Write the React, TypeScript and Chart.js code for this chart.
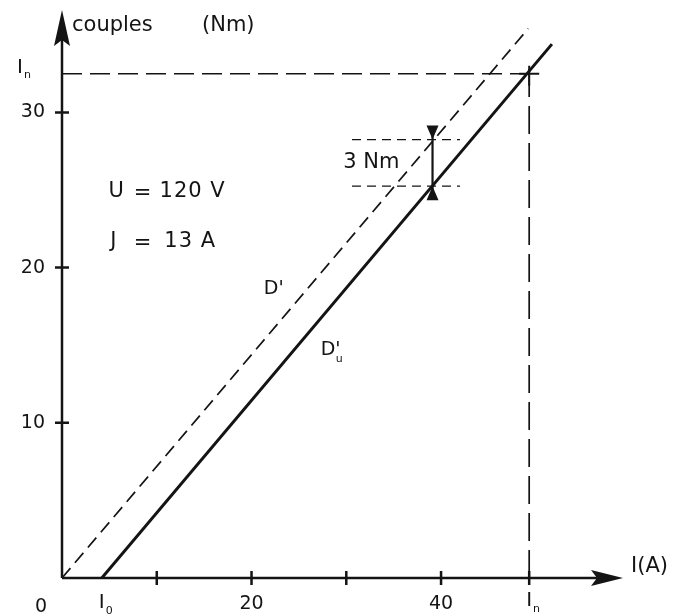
import { useEffect, useRef } from 'react';
import { Chart, registerables } from 'chart.js';

Chart.register(...registerables);

// Axis ranges (current I in A, torque in Nm)
const currentRange = [0, 59.2];
const torqueRange = [0, 36.6];

// Tick marks and labels
const xTickValues = [10, 20, 30, 40];
const xTickLabelValues = [20, 40];
const xTickLabels = ['20', '40'];
const yTickValues = [10, 20, 30];
const yTickLabels = ['10', '20', '30'];

// Characteristic values
const I0 = 4.2; // no-load current
const In = 49.3; // nominal current
const Cn = 32.5; // nominal torque

// D' : electromagnetic torque (dashed)
const dPrimeCurrent = [0, 49.2];
const dPrimeTorque = [0, 35.4];
// D'u : useful torque (solid)
const dPrimeUCurrent = [4.2, 51.7];
const dPrimeUTorque = [0, 34.4];

// 3 Nm loss marker
const markerCurrent = 39.1;
const markerUpper = 28.25;
const markerLower = 25.25;
const markerSpan = [30.6, 42.0];
const lossLabel = '3 Nm';

// Guide line extents
const nominalGuideEnd = 50.2;
const nominalGuideTop = 32.9;

const conditionLabels = ['U = 120 V', 'J = 13 A'];

export default function App() {
  const ref = useRef<HTMLCanvasElement>(null);

  useEffect(() => {
    const canvas = ref.current;
    if (!canvas) return;
    const ink = '#141414';
    const FAM = '"DejaVu Sans", sans-serif';
    const font = (s: number) => `${s}px ${FAM}`;

    const drawing = {
      id: 'drawing',
      afterDatasetsDraw(chart: any) {
        const ctx: any = chart.ctx;
        const xs = chart.scales.x;
        const ys = chart.scales.y;
        const px = (v: number) => xs.getPixelForValue(v);
        const py = (v: number) => ys.getPixelForValue(v);
        const x0 = px(0);
        const y0 = py(0);
        const xEnd = px(currentRange[1]);
        const yEnd = py(torqueRange[1]);
        ctx.save();
        ctx.strokeStyle = ink;
        ctx.fillStyle = ink;
        ctx.setLineDash([]);
        ctx.lineWidth = 2.5;
        // axes
        ctx.beginPath();
        ctx.moveTo(x0, y0);
        ctx.lineTo(xEnd - 20, y0);
        ctx.moveTo(x0, y0);
        ctx.lineTo(x0, yEnd + 25);
        ctx.stroke();
        // axis arrowheads
        ctx.beginPath();
        ctx.moveTo(xEnd, y0);
        ctx.lineTo(xEnd - 32, y0 - 8);
        ctx.lineTo(xEnd - 26, y0);
        ctx.lineTo(xEnd - 32, y0 + 8);
        ctx.closePath();
        ctx.fill();
        ctx.beginPath();
        ctx.moveTo(x0, yEnd);
        ctx.lineTo(x0 - 8, yEnd + 36);
        ctx.lineTo(x0, yEnd + 30);
        ctx.lineTo(x0 + 8, yEnd + 36);
        ctx.closePath();
        ctx.fill();
        // ticks
        ctx.lineWidth = 2.5;
        ctx.beginPath();
        [...xTickValues, In].forEach((v) => {
          ctx.moveTo(px(v), y0 - 7);
          ctx.lineTo(px(v), y0 + 7);
        });
        yTickValues.forEach((v) => {
          ctx.moveTo(x0 - 7, py(v));
          ctx.lineTo(x0 + 7, py(v));
        });
        ctx.stroke();
        // cross at nominal point
        ctx.lineWidth = 2;
        ctx.beginPath();
        ctx.moveTo(px(In) - 10, py(Cn));
        ctx.lineTo(px(In) + 10, py(Cn));
        ctx.moveTo(px(In), py(Cn) - 8);
        ctx.lineTo(px(In), py(Cn) + 12);
        ctx.stroke();
        // loss marker arrowheads
        const mx = px(markerCurrent);
        const mu = py(markerUpper);
        const ml = py(markerLower);
        ctx.beginPath();
        ctx.moveTo(mx, mu);
        ctx.lineTo(mx - 6, mu - 14);
        ctx.lineTo(mx + 6, mu - 14);
        ctx.closePath();
        ctx.moveTo(mx, ml);
        ctx.lineTo(mx - 6, ml + 14);
        ctx.lineTo(mx + 6, ml + 14);
        ctx.closePath();
        ctx.fill();
        ctx.lineWidth = 2.2;
        ctx.beginPath();
        ctx.moveTo(mx, mu - 12);
        ctx.lineTo(mx, ml + 12);
        ctx.stroke();

        // texts
        ctx.textBaseline = 'middle';
        ctx.font = font(19);
        ctx.textAlign = 'right';
        yTickValues.forEach((v, i) => {
          ctx.fillText(yTickLabels[i], x0 - 17, py(v));
        });
        ctx.textAlign = 'center';
        xTickLabelValues.forEach((v, i) => {
          ctx.fillText(xTickLabels[i], px(v), y0 + 26);
        });
        ctx.fillText('0', x0 - 21, y0 + 29);
        const subLabel = (x: number, y: number, main: string, sub: string) => {
          ctx.textAlign = 'left';
          ctx.font = font(20);
          const w = ctx.measureText(main).width;
          ctx.fillText(main, x, y);
          ctx.font = font(11);
          ctx.fillText(sub, x + w + 1, y + 8);
        };
        subLabel(px(I0) - 3, y0 + 25, 'I', '0');
        subLabel(px(In) - 3, y0 + 23, 'I', 'n');
        subLabel(x0 - 45, py(Cn) - 6, 'I', 'n');
        // axis titles
        ctx.font = font(21);
        ctx.textAlign = 'left';
        ctx.fillText('I(A)', xEnd + 8, y0 - 11);
        ctx.fillText('couples', x0 + 10, yEnd + 16);
        ctx.fillText('(Nm)', x0 + 140, yEnd + 16);
        // conditions: left side, "=", right side placed with wide spacing
        ctx.font = font(21);
        const condY = [py(24.9), py(21.7)];
        conditionLabels.forEach((lab, i) => {
          const [lhs, rhs] = lab.split(' = ');
          ctx.textAlign = 'left';
          ctx.fillText(lhs, px(i === 0 ? 4.9 : 5.1), condY[i]);
          ctx.textAlign = 'center';
          ctx.fillText('=', px(8.5), condY[i] + 2);
          ctx.textAlign = 'left';
          ctx.letterSpacing = '1px';
          ctx.fillText(rhs, px(i === 0 ? 10.3 : 10.8), condY[i]);
          ctx.letterSpacing = '0px';
        });
        // loss label
        ctx.textAlign = 'right';
        ctx.font = font(21);
        ctx.fillText(lossLabel, mx - 33, py((markerUpper + markerLower) / 2));
        // line labels
        ctx.textAlign = 'left';
        ctx.font = font(19);
        ctx.fillText("D'", px(21.3), py(18.6));
        ctx.fillText("D'", px(27.3), py(14.7));
        ctx.font = font(11);
        ctx.fillText('u', px(28.9), py(14.1));
        ctx.restore();
      },
    };

    const pts = (xa: number[], ya: number[]) => xa.map((x, i) => ({ x, y: ya[i] }));
    const line = (data: any[], width: number, dash: number[]) => ({
      data,
      borderColor: ink,
      borderWidth: width,
      borderDash: dash,
      pointRadius: 0,
      showLine: true,
      fill: false,
      tension: 0,
    });

    const chart = new Chart(canvas, {
      type: 'scatter',
      data: {
        datasets: [
          line(pts(dPrimeCurrent, dPrimeTorque), 1.7, [13, 7]),
          line(pts(dPrimeUCurrent, dPrimeUTorque), 3, []),
          line([{ x: 0, y: Cn }, { x: nominalGuideEnd, y: Cn }], 1.5, [20, 8]),
          line([{ x: In, y: 0 }, { x: In, y: nominalGuideTop }], 1.7, [28, 9]),
          line([{ x: markerSpan[0], y: markerUpper }, { x: markerSpan[1], y: markerUpper }], 1.3, [9, 6]),
          line([{ x: markerSpan[0], y: markerLower }, { x: markerSpan[1], y: markerLower }], 1.3, [9, 6]),
        ],
      },
      options: {
        responsive: false,
        animation: false,
        layout: { padding: { left: 62, right: 53, top: 10, bottom: 37 } },
        plugins: { legend: { display: false }, tooltip: { enabled: false } },
        scales: {
          x: { type: 'linear', min: currentRange[0], max: currentRange[1], display: false },
          y: { type: 'linear', min: torqueRange[0], max: torqueRange[1], display: false },
        },
      },
      plugins: [drawing],
    });
    return () => chart.destroy();
  }, []);

  return (
    <div style={{ position: 'fixed', left: 0, top: 0, width: 676, height: 615, background: '#fff' }}>
      <canvas ref={ref} width={676} height={615} />
    </div>
  );
}
